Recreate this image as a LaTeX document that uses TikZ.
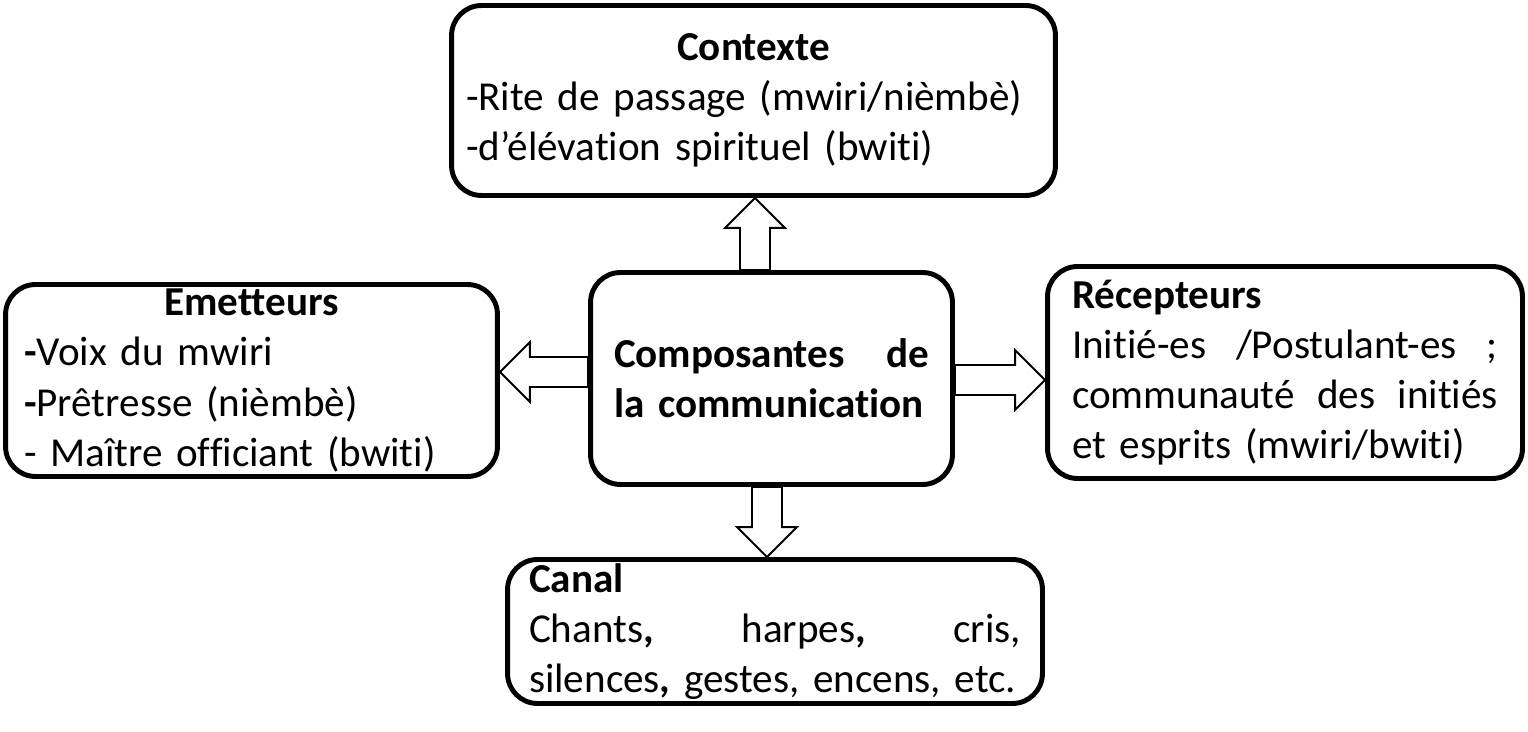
\documentclass[tikz,border=0pt]{standalone}
\usepackage{fontspec}
\setmainfont{Carlito}[Ligatures=NoCommon]
\usepackage{tikz}
\usetikzlibrary{positioning,calc}
\hyphenpenalty=10000
\exhyphenpenalty=10000

% hollow block arrow from #1 to #2
\newcommand\hollowarrow[2]{%
  \path let \p1=($(#2)-(#1)$) in \pgfextra{%
    \pgfmathsetmacro\harrang{atan2(\y1,\x1)}\xdef\harrang{\harrang}%
    \pgfmathsetmacro\harrlen{veclen(\x1,\y1)}\xdef\harrlen{\harrlen}};
  \draw[hollow, shift={(#1)}, rotate=\harrang]
    (0pt,-0.3cm) -- (\harrlen pt-0.6cm,-0.3cm) -- (\harrlen pt-0.6cm,-0.6cm)
    -- (\harrlen pt,0pt) -- (\harrlen pt-0.6cm,0.6cm) -- (\harrlen pt-0.6cm,0.3cm)
    -- (0pt,0.3cm) -- cycle;
}

\begin{document}
\begin{tikzpicture}[x=0.02cm, y=-0.02cm,
    every node/.style={font=\fontsize{23.4}{28.5}\selectfont},
    box/.style={draw, line width=2.8pt, rounded corners=0.6cm, inner sep=0pt, align=left},
    hollow/.style={draw, fill=white, line width=1.1pt, line join=miter}]
    \useasboundingbox (0,0) rectangle (1528,732);

    \node[box, minimum width=12.08cm, minimum height=3.8cm, text width=11.5cm] (ctx) at (753.5,100.5) {
        \hfil\textbf{Contexte}\\
        -Rite de passage (mwiri/nièmbè)\\
        -d’élévation spirituel (bwiti)
    };

    \node[box, minimum width=9.84cm, minimum height=3.84cm, text width=9.1cm] (emet) at (251.5,380.5) {
        \hfil\textbf{Emetteurs}\\
        \textbf{-}Voix du mwiri\\
        \textbf{-}Prêtresse (nièmbè)\\
        - Maître officiant (bwiti)
    };

    \node[box, minimum width=7.24cm, minimum height=4.24cm, text width=6.3cm, font=\fontsize{23.4}{28.5}\selectfont\bfseries] (comp) at (771.5,378.5) {
        Composantes \hfill de\\
        la communication
    };

    \node[box, minimum width=9.5cm, minimum height=4.24cm, text width=8.52cm] (recep) at (1285,372.5) {
        \textbf{Récepteurs}\\
        Initié-es \hfill /Postulant-es \hfill ;\\
        communauté \hfill des \hfill initiés\\
        et esprits (mwiri/bwiti)
    };

    \node[box, minimum width=10.7cm, minimum height=2.88cm, text width=9.84cm] (canal) at (775,631.5) {
        \textbf{Canal}\\
        Chants\textbf{,} \hfill harpes\textbf{,} \hfill cris,\\
        silences\textbf{,} gestes, encens, etc.
    };

    \coordinate (upA) at ([xshift=-0.33cm]comp.north);
    \coordinate (upB) at (upA |- ctx.south);
    \coordinate (leftA) at ([yshift=0.13cm]comp.west);
    \coordinate (leftB) at (leftA -| emet.east);
    \coordinate (rightA) at ([yshift=-0.03cm]comp.east);
    \coordinate (rightB) at (rightA -| recep.west);
    \coordinate (downA) at ([xshift=-0.09cm]comp.south);
    \coordinate (downB) at (downA |- canal.north);

    \hollowarrow{upA}{upB}
    \hollowarrow{leftA}{leftB}
    \hollowarrow{rightA}{rightB}
    \hollowarrow{downA}{downB}
\end{tikzpicture}
\end{document}
